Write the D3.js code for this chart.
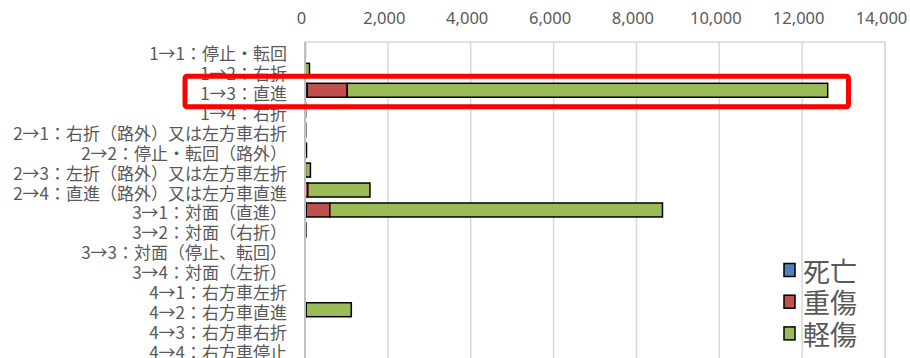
<!DOCTYPE html>
<html>
<head>
<meta charset="utf-8">
<script src="https://cdn.jsdelivr.net/npm/d3@7"></script>
<style>
  body { margin: 0; background: #fff; }
  svg { display: block; font-family: "Noto Sans CJK JP", "Noto Sans", sans-serif; }
</style>
</head>
<body>
<svg id="grafico" width="910" height="358"></svg>
<script>
const categorias = [
  "1→1：停止・転回",
  "1→2：右折",
  "1→3：直進",
  "1→4：右折",
  "2→1：右折（路外）又は左方車右折",
  "2→2：停止・転回（路外）",
  "2→3：左折（路外）又は左方車左折",
  "2→4：直進（路外）又は左方車直進",
  "3→1：対面（直進）",
  "3→2：対面（右折）",
  "3→3：対面（停止、転回）",
  "3→4：対面（左折）",
  "4→1：右方車左折",
  "4→2：右方車直進",
  "4→3：右方車右折",
  "4→4：右方車停止"
];
const series_nomes = ["死亡", "重傷", "軽傷"];
const mortos   = [0, 0, 55, 2, 0, 1, 1, 8, 30, 0, 0, 0, 0, 3, 0, 0];
const graves   = [1, 8, 965, 3, 2, 5, 10, 60, 570, 2, 0, 1, 1, 25, 1, 0];
const leves    = [8, 100, 11597, 10, 15, 30, 120, 1500, 8029, 20, 3, 4, 5, 1090, 4, 2];
const ticks_x = [0, 2000, 4000, 6000, 8000, 10000, 12000, 14000];
const cores = ["#4F81BD", "#C0504D", "#9BBB59"];
const destaque = "1→3：直進";

const svg = d3.select("#grafico");
const cinza_texto = "#595959";

const x = d3.scaleLinear().domain([0, 14000]).range([305, 885]);
const y = d3.scaleBand().domain(categorias).range([40.4, 40.4 + 16 * 19.95]).paddingInner(0.3).paddingOuter(0.15);

// area do grafico
svg.append("rect")
  .attr("x", x(0)).attr("y", 42)
  .attr("width", x(14000) - x(0)).attr("height", 330)
  .attr("fill", "none").attr("stroke", "#D9D9D9").attr("stroke-width", 1.5);

// linhas de grade
svg.selectAll(".grade")
  .data(ticks_x.slice(1))
  .enter()
  .append("line")
  .attr("class", "grade")
  .attr("x1", d => x(d)).attr("x2", d => x(d))
  .attr("y1", 42).attr("y2", 372)
  .attr("stroke", "#D9D9D9").attr("stroke-width", 1.5);

// eixo x no topo
const eixo_x = d3.axisTop(x).tickValues(ticks_x).tickSize(0).tickFormat(d3.format(","));
svg.append("g")
  .attr("transform", "translate(-4,21)")
  .call(eixo_x)
  .call(g => g.select(".domain").remove())
  .call(g => g.selectAll("text")
    .attr("fill", cinza_texto)
    .attr("font-size", "16.5px")
    .attr("dy", "0.35em")
    .attr("font-family", "\"Noto Sans\", sans-serif"));

// pilhas
const tabela = categorias.map((c, i) => ({ categoria: c, "死亡": mortos[i], "重傷": graves[i], "軽傷": leves[i] }));
const pilhas = d3.stack().keys(series_nomes)(tabela);

svg.selectAll(".serie")
  .data(pilhas)
  .enter()
  .append("g")
  .attr("class", "serie")
  .attr("fill", (d, i) => cores[i])
  .selectAll("rect")
  .data(d => d.filter(p => p[1] - p[0] > 0))
  .enter()
  .append("rect")
  .attr("x", d => x(d[0]))
  .attr("y", d => y(d.data.categoria))
  .attr("width", d => x(d[1]) - x(d[0]))
  .attr("height", y.bandwidth())
  .attr("stroke", "#000")
  .attr("stroke-width", 1.5);

// eixo vertical (zero)
svg.append("line")
  .attr("x1", x(0)).attr("x2", x(0))
  .attr("y1", 42).attr("y2", 372)
  .attr("stroke", "#BFBFBF").attr("stroke-width", 2);

// rotulos das categorias
svg.selectAll(".rotulo")
  .data(categorias)
  .enter()
  .append("text")
  .attr("class", "rotulo")
  .attr("x", 287)
  .attr("y", d => y(d) + y.bandwidth() / 2 + 2)
  .attr("text-anchor", "end")
  .attr("dominant-baseline", "central")
  .attr("font-size", "17px")
  .attr("fill", cinza_texto)
  .text(d => d);

// legenda
const legenda = svg.selectAll(".legenda")
  .data(series_nomes)
  .enter()
  .append("g")
  .attr("class", "legenda")
  .attr("transform", (d, i) => `translate(784,${263.5 + i * 31.7})`);

legenda.append("rect")
  .attr("width", 11).attr("height", 13)
  .attr("fill", (d, i) => cores[i])
  .attr("stroke", "#000").attr("stroke-width", 1.5);

legenda.append("text")
  .attr("x", 19).attr("y", 6.5)
  .attr("dominant-baseline", "central")
  .attr("font-size", "27px")
  .attr("fill", cinza_texto)
  .text(d => d);

// destaque vermelho
svg.append("rect")
  .attr("x", 185).attr("y", y(destaque) - 7)
  .attr("width", 663.5).attr("height", 30.5)
  .attr("rx", 2)
  .attr("fill", "none").attr("stroke", "#FF0000").attr("stroke-width", 5);
</script>
</body>
</html>
